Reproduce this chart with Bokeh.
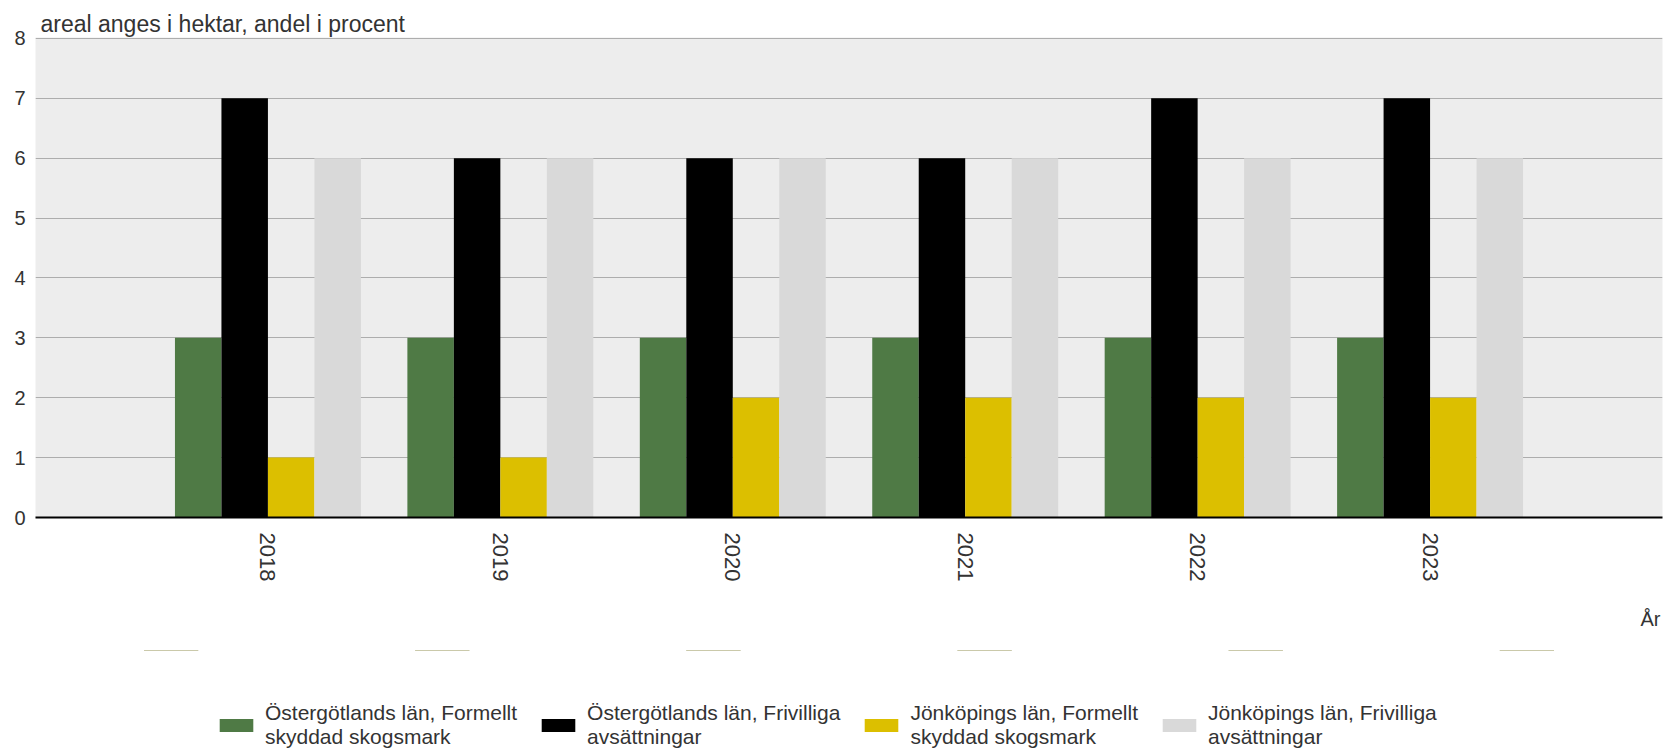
import math
from bokeh.plotting import figure
from bokeh.layouts import column
from bokeh.models import (ColumnDataSource, FactorRange, Range1d, Legend, LegendItem,
                          Title, FixedTicker, BoxAnnotation)
from bokeh.transform import dodge
from bokeh.embed import file_html
from bokeh.resources import INLINE

# ---- data ----
years = ["2018", "2019", "2020", "2021", "2022", "2023"]
ost_formellt = [3, 3, 3, 3, 3, 3]
ost_frivilliga = [7, 6, 6, 6, 7, 7]
jon_formellt = [1, 1, 2, 2, 2, 2]
jon_frivilliga = [6, 6, 6, 6, 6, 6]
series_labels = [
    "Östergötlands län, Formellt\nskyddad skogsmark",
    "Östergötlands län, Frivilliga\navsättningar",
    "Jönköpings län, Formellt\nskyddad skogsmark",
    "Jönköpings län, Frivilliga\navsättningar",
]
y_ticks = [0, 1, 2, 3, 4, 5, 6, 7, 8]
title_text = "areal anges i hektar, andel i procent"
x_title = "År"

colors = ["#4F7A45", "#000000", "#DCBF00", "#D9D9D9"]
FONT = "Liberation Sans"
TXT = "#333333"

src = ColumnDataSource(dict(year=years, s0=ost_formellt, s1=ost_frivilliga,
                            s2=jon_formellt, s3=jon_frivilliga))

# ---------------- main chart ----------------
p = figure(x_range=FactorRange(*years, range_padding=1/6, range_padding_units="percent"),
           y_range=Range1d(0, 8.015),
           width=1665, height=650, output_backend="svg", toolbar_location=None,
           min_border_left=35, min_border_right=3, min_border_top=37, min_border_bottom=131)

p.title.text = title_text
p.title.align = "left"
p.title.offset = 5
p.title.text_font = FONT
p.title.text_font_size = "23px"
p.title.text_font_style = "normal"
p.title.text_color = TXT
p.title.standoff = 2

p.background_fill_color = "#EDEDED"
p.border_fill_color = "white"
p.outline_line_color = None

offsets = [-0.3, -0.1, 0.1, 0.3]
for i, off in enumerate(offsets):
    p.vbar(x=dodge("year", off, range=p.x_range), top="s%d" % i, width=0.2,
           source=src, fill_color=colors[i], line_color=None)

p.yaxis.ticker = FixedTicker(ticks=y_ticks)
p.yaxis.axis_line_color = None
p.yaxis.major_tick_line_color = None
p.yaxis.minor_tick_line_color = None
p.yaxis.major_label_standoff = 4
p.yaxis.major_label_text_font = FONT
p.yaxis.major_label_text_font_size = "20px"
p.yaxis.major_label_text_color = TXT

p.xaxis.axis_line_color = "black"
p.xaxis.axis_line_width = 2
p.xaxis.major_tick_line_color = None
p.xaxis.minor_tick_line_color = None
p.xaxis.major_label_orientation = -math.pi / 2
p.xaxis.major_label_standoff = 9
p.xaxis.major_label_text_font = FONT
p.xaxis.major_label_text_font_size = "22px"
p.xaxis.major_label_text_color = TXT

p.xgrid.grid_line_color = None
p.ygrid.grid_line_color = "#ADADAD"
p.ygrid.grid_line_width = 1

xt = Title(text=x_title, align="right", offset=2, standoff=42, text_font=FONT,
           text_font_size="20px", text_font_style="normal", text_color=TXT)
p.add_layout(xt, "below")

# ---------------- legend strip ----------------
# Same series drawn again as zero-height bars in a strip whose y-range lies well
# below zero, so nothing of them shows except their legend swatches.
lg = figure(width=1665, height=99, output_backend="svg", toolbar_location=None,
            x_range=FactorRange(*years), y_range=Range1d(-30, -20),
            x_axis_location=None, y_axis_location=None,
            min_border_left=0, min_border_right=0, min_border_top=0, min_border_bottom=0)
lg.grid.visible = False
lg.outline_line_color = None
lg.background_fill_color = "white"

items = []
for i, (lab, col) in enumerate(zip(series_labels, colors)):
    r = lg.vbar(x="year", top="s%d" % i, bottom="s%d" % i, width=0.2, source=src,
                fill_color=col, line_color=None)
    items.append(LegendItem(label=lab, renderers=[r]))

# white strip over the top edge of the legend strip
lg.add_layout(BoxAnnotation(top=-20, bottom=-20.4, fill_color="white", fill_alpha=1.0,
                            line_color=None))

legend = Legend(items=items, orientation="horizontal", location=(180, 0),
                glyph_width=42, glyph_height=16, label_standoff=8, spacing=20,
                padding=0, margin=0, border_line_color=None, background_fill_alpha=0,
                label_text_font=FONT, label_text_font_size="21px",
                label_text_line_height=0.8, label_text_color=TXT)
lg.add_layout(legend, "center")

layout = column(p, lg, spacing=0)
open("out.html", "w").write(file_html(layout, INLINE))
